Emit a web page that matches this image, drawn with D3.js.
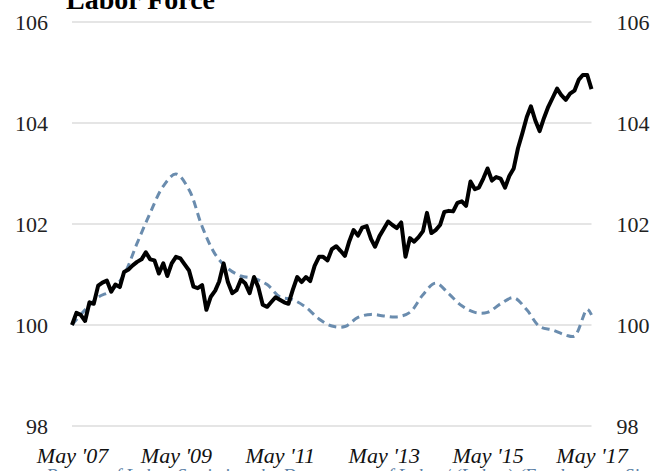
<!DOCTYPE html>
<html>
<head>
<meta charset="utf-8">
<script src="https://cdn.jsdelivr.net/npm/d3@7"></script>
<style>
  body { margin: 0; background: #fff; }
  svg { display: block; }
</style>
</head>
<body>
<div id="chart"></div>
<script>
// monthly index, May 2007 = 100
const laborForce = [
  100.0, 100.24, 100.2, 100.08, 100.45, 100.42, 100.78, 100.84, 100.88, 100.66,
  100.8, 100.75, 101.05, 101.1, 101.18, 101.25, 101.3, 101.44, 101.3, 101.28,
  101.02, 101.22, 100.97, 101.22, 101.35, 101.32, 101.2, 101.08, 100.76, 100.73,
  100.79, 100.3, 100.56, 100.68, 100.86, 101.22, 100.85, 100.63, 100.69, 100.9,
  100.82, 100.63, 100.95, 100.75, 100.4, 100.36, 100.45, 100.55, 100.5, 100.45,
  100.42, 100.7, 100.95, 100.85, 100.95, 100.87, 101.17, 101.35, 101.35, 101.28,
  101.5, 101.56, 101.47, 101.37, 101.66, 101.88, 101.77, 101.93, 101.96, 101.7,
  101.55, 101.76, 101.9, 102.05, 101.98, 101.92, 102.03, 101.35, 101.72, 101.65,
  101.74, 101.86, 102.22, 101.82, 101.88, 101.98, 102.24, 102.26, 102.25, 102.42,
  102.45, 102.36, 102.84, 102.69, 102.72, 102.9, 103.1, 102.86, 102.93, 102.9,
  102.72, 102.95, 103.1, 103.5, 103.8, 104.12, 104.33, 104.05, 103.84, 104.1,
  104.32, 104.5, 104.68, 104.55, 104.46, 104.58, 104.64, 104.86, 104.95, 104.95,
  104.67
];

const comparisonDates = [
  "2007-05", "2007-08", "2007-11", "2008-02", "2008-05", "2008-08", "2008-11",
  "2009-02", "2009-05", "2009-08", "2009-11", "2010-02", "2010-05", "2010-08",
  "2010-11", "2011-02", "2011-05", "2011-08", "2011-11", "2012-02", "2012-05",
  "2012-08", "2012-11", "2013-02", "2013-05", "2013-08", "2013-11", "2014-02",
  "2014-05", "2014-08", "2014-11", "2015-02", "2015-05", "2015-08", "2015-11",
  "2016-02", "2016-05", "2016-08", "2016-11", "2017-01", "2017-04", "2017-05"
];
const comparison = [
  100.0, 100.3, 100.55, 100.68, 101.0, 101.62, 102.22,
  102.75, 102.99, 102.68, 101.95, 101.4, 101.12, 100.97,
  100.92, 100.8, 100.56, 100.5, 100.35, 100.12, 99.98,
  99.97, 100.15, 100.21, 100.18, 100.16, 100.25, 100.6,
  100.83, 100.62, 100.38, 100.25, 100.25, 100.42, 100.54,
  100.3, 99.97, 99.9, 99.8, 99.78, 100.31, 100.2
];

const yTicks = [98, 100, 102, 104, 106];
const xTickDates = ["2007-05", "2009-05", "2011-05", "2013-05", "2015-05", "2017-05"];
const title = "Labor Force";
const source = "Bureau of Labor Statistics, the Department of Labor/ (Labor) (Employment Situation)";

const width = 654;
const height = 471;
const plotLeft = 72, plotRight = 591.5, plotTop = 22, plotBottom = 426;

const parse = d3.timeParse("%Y-%m");
const start = parse("2007-05");

const x = d3.scaleTime()
    .domain([start, parse("2017-05")])
    .range([plotLeft, plotRight]);

const y = d3.scaleLinear()
    .domain([98, 106])
    .range([plotBottom, plotTop]);

const svg = d3.select("#chart").append("svg")
    .attr("width", width)
    .attr("height", height);

const serif = "'Liberation Serif', 'DejaVu Serif', serif";

// gridlines
svg.append("g")
    .selectAll("line")
    .data(yTicks)
    .join("line")
    .attr("x1", plotLeft)
    .attr("x2", plotRight)
    .attr("y1", d => y(d))
    .attr("y2", d => y(d))
    .attr("stroke", "#dcdcdc")
    .attr("stroke-width", 1.5);

// left and right axes, no lines
const yLeft = svg.append("g")
    .attr("transform", "translate(" + plotLeft + ",0)")
    .call(d3.axisLeft(y).tickValues(yTicks).tickSize(0).tickPadding(24).tickFormat(d3.format("d")));
const yRight = svg.append("g")
    .attr("transform", "translate(" + plotRight + ",0)")
    .call(d3.axisRight(y).tickValues(yTicks).tickSize(0).tickPadding(25).tickFormat(d3.format("d")));
[yLeft, yRight].forEach(g => {
    g.select(".domain").remove();
    g.selectAll("text")
        .attr("font-family", serif)
        .attr("font-size", 22)
        .attr("fill", "#222");
});

const fmtX = d3.timeFormat("%b '%y");
const xAxis = svg.append("g")
    .attr("transform", "translate(0," + plotBottom + ")")
    .call(d3.axisBottom(x).tickValues(xTickDates.map(parse)).tickSize(0).tickPadding(21).tickFormat(fmtX));
xAxis.select(".domain").remove();
xAxis.selectAll("text")
    .attr("font-family", serif)
    .attr("font-style", "italic")
    .attr("font-size", 22)
    .attr("fill", "#111");

// comparison series (dashed, smooth)
const dashLine = d3.line()
    .x((d, i) => x(parse(comparisonDates[i])))
    .y(d => y(d))
    .curve(d3.curveCatmullRom.alpha(0.5));

svg.append("path")
    .datum(comparison)
    .attr("d", dashLine)
    .attr("fill", "none")
    .attr("stroke", "#6a8cae")
    .attr("stroke-width", 3)
    .attr("stroke-dasharray", "8,5");

// labor force (solid)
const solidLine = d3.line()
    .x((d, i) => x(d3.timeMonth.offset(start, i)))
    .y(d => y(d))
    .curve(d3.curveLinear);

svg.append("path")
    .datum(laborForce)
    .attr("d", solidLine)
    .attr("fill", "none")
    .attr("stroke", "#000")
    .attr("stroke-width", 4)
    .attr("stroke-linejoin", "round");

svg.append("text")
    .attr("x", 66)
    .attr("y", 9)
    .attr("font-family", serif)
    .attr("font-weight", "bold")
    .attr("font-size", 28)
    .attr("fill", "#000")
    .text(title);

svg.append("text")
    .attr("x", 46)
    .attr("y", 482)
    .attr("font-family", serif)
    .attr("font-style", "italic")
    .attr("font-size", 19)
    .attr("fill", "#5b7fa6")
    .text(source);
</script>
</body>
</html>
